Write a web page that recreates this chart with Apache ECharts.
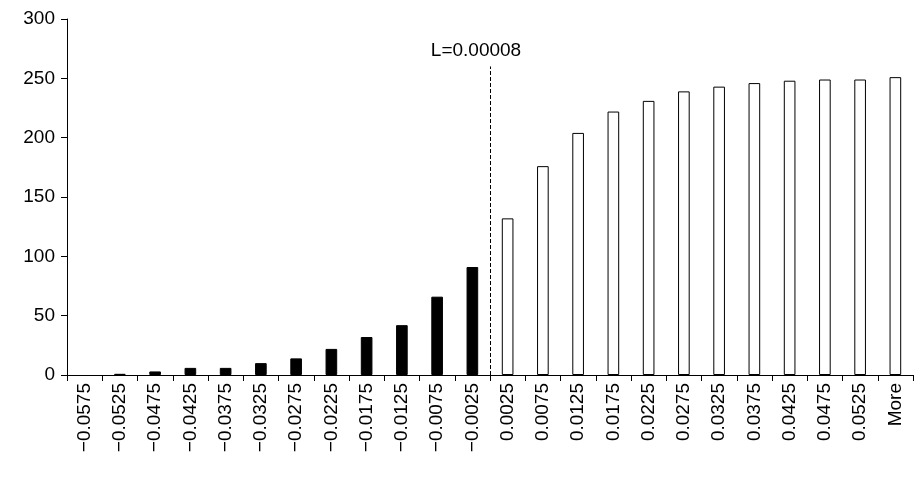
<!DOCTYPE html>
<html>
<head>
<meta charset="utf-8">
<script src="https://cdn.jsdelivr.net/npm/echarts@6/dist/echarts.min.js"></script>
</head>
<body style="margin:0">
<div id="main" style="width:924px;height:483px"></div>
<script>
var categories = ['\u22120.0575','\u22120.0525','\u22120.0475','\u22120.0425','\u22120.0375','\u22120.0325','\u22120.0275','\u22120.0225','\u22120.0175','\u22120.0125','\u22120.0075','\u22120.0025',
  '0.0025','0.0075','0.0125','0.0175','0.0225','0.0275','0.0325','0.0375','0.0425','0.0475','0.0525','More'];
var values = [0,1,3,6,6,10,14,22,32,42,66,91,132,176,204,222,231,239,243,246,248,249,249,251];
var splitIndex = 12;
var lineLabel = 'L=0.00008';
var lineTop = 260;

var chart = echarts.init(document.getElementById('main'));
var font = 'Liberation Sans, Arial, sans-serif';
chart.setOption({
  animation: false,
  grid: { left: 67, right: 11, top: 19, bottom: 108 },
  xAxis: [{
    type: 'category', data: categories,
    axisLine: { lineStyle: { color: '#000' } },
    axisTick: { show: true, length: 6, lineStyle: { color: '#000' } },
    axisLabel: { rotate: 90, interval: 0, color: '#000', fontSize: 19, fontFamily: font }
  }, {
    type: 'value', min: 0, max: categories.length, show: false
  }],
  yAxis: {
    type: 'value', min: 0, max: 300, interval: 50,
    splitLine: { show: false },
    axisLine: { show: true, lineStyle: { color: '#000' } },
    axisTick: { show: true, length: 6, lineStyle: { color: '#000' } },
    axisLabel: { color: '#000', fontSize: 19, fontFamily: font, margin: 12 }
  },
  series: [{
    type: 'bar', barWidth: '33%',
    data: values.map(function (v, i) {
      return {
        value: v,
        itemStyle: i < splitIndex
          ? { color: '#000', borderColor: '#000', borderWidth: v ? 1 : 0 }
          : { color: '#fff', borderColor: '#000', borderWidth: 1 }
      };
    })
  }, {
    type: 'line', xAxisIndex: 1, data: [],
    markLine: {
      symbol: 'none', silent: true,
      lineStyle: { color: '#000', type: 'dashed', width: 1 },
      label: { formatter: lineLabel, position: 'end', color: '#000', fontSize: 19, fontFamily: font, distance: 6, offset: [-14, 0] },
      data: [[{ coord: [splitIndex, 0] }, { coord: [splitIndex, lineTop] }]]
    }
  }]
});
</script>
</body>
</html>
